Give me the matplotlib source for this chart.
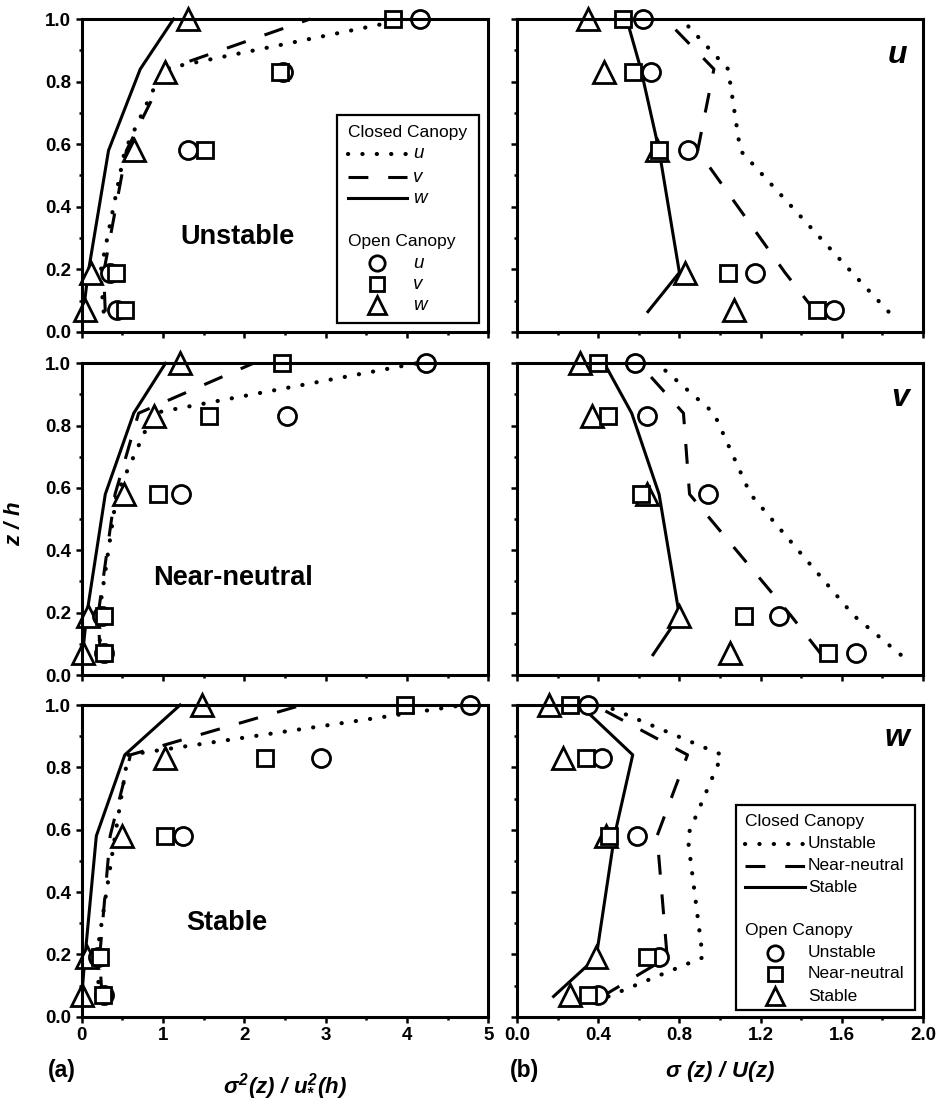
import matplotlib
matplotlib.use("Agg")
import matplotlib.pyplot as plt
from matplotlib.patches import Rectangle
from matplotlib.ticker import MultipleLocator, FormatStrFormatter

plt.rcParams['font.family'] = ['Liberation Sans', 'DejaVu Sans']
plt.rcParams['mathtext.fontset'] = 'custom'
plt.rcParams['mathtext.rm'] = 'Liberation Sans:bold:italic'
plt.rcParams['mathtext.it'] = 'Liberation Sans:bold:italic'
plt.rcParams['mathtext.bf'] = 'Liberation Sans:bold'

# ---------------- data ----------------
z_open = [0.07, 0.19, 0.58, 0.83, 1.0]
z_closed = [0.065, 0.19, 0.58, 0.84, 1.0]

stab_names = ['Unstable', 'Near-neutral', 'Stable']
comp_names = ['u', 'v', 'w']

# (a) sigma^2 / u*^2, rows = stability; each has closed u, v, w and open u, v, w
a_closed_u = [[0.27, 0.23, 0.53, 1.00, 4.00],
              [0.23, 0.21, 0.43, 0.88, 4.12],
              [0.22, 0.18, 0.41, 0.57, 4.70]]
a_closed_v = [[0.29, 0.27, 0.55, 1.05, 2.81],
              [0.23, 0.20, 0.41, 0.70, 2.11],
              [0.25, 0.22, 0.35, 0.60, 2.71]]
a_closed_w = [[0.02, 0.08, 0.33, 0.72, 1.13],
              [0.01, 0.06, 0.29, 0.64, 1.03],
              [0.00, 0.04, 0.18, 0.53, 1.21]]
a_open_u = [[0.43, 0.35, 1.31, 2.48, 4.16],
            [0.27, 0.25, 1.22, 2.52, 4.24],
            [0.27, 0.20, 1.24, 2.94, 4.78]]
a_open_v = [[0.53, 0.42, 1.52, 2.44, 3.83],
            [0.27, 0.27, 0.94, 1.57, 2.46],
            [0.26, 0.22, 1.03, 2.26, 3.98]]
a_open_w = [[0.04, 0.12, 0.64, 1.03, 1.31],
            [0.02, 0.08, 0.52, 0.89, 1.21],
            [0.00, 0.06, 0.50, 1.03, 1.48]]

# (b) sigma / U, rows = component u, v, w
b_closed_unstable = [[1.83, 1.65, 1.10, 1.04, 0.81],
                     [1.89, 1.66, 1.15, 0.97, 0.69],
                     [0.45, 0.915, 0.84, 1.01, 0.425]]
b_closed_neutral = [[1.47, 1.32, 0.89, 0.97, 0.73],
                    [1.50, 1.35, 0.85, 0.82, 0.60],
                    [0.42, 0.74, 0.69, 0.84, 0.38]]
b_closed_stable = [[0.645, 0.80, 0.70, 0.61, 0.54],
                   [0.67, 0.80, 0.70, 0.565, 0.43],
                   [0.18, 0.39, 0.48, 0.57, 0.31]]
b_open_unstable = [[1.56, 1.17, 0.84, 0.66, 0.62],
                   [1.67, 1.29, 0.94, 0.64, 0.58],
                   [0.40, 0.70, 0.59, 0.42, 0.35]]
b_open_neutral = [[1.48, 1.04, 0.70, 0.57, 0.52],
                  [1.53, 1.12, 0.61, 0.45, 0.40],
                  [0.35, 0.64, 0.455, 0.34, 0.26]]
b_open_stable = [[1.07, 0.83, 0.69, 0.43, 0.35],
                 [1.05, 0.80, 0.64, 0.37, 0.31],
                 [0.26, 0.39, 0.44, 0.225, 0.16]]

# ---------------- styles ----------------
LW = 2.2
DOT = dict(color='black', lw=3.0, linestyle=(0, (0.05, 3.4)), dash_capstyle='round', clip_on=False)
DASH = dict(color='black', lw=LW, linestyle=(0, (6.5, 6.5)), dash_capstyle='butt', clip_on=False)
SOLID = dict(color='black', lw=LW, linestyle='-', clip_on=False)
MK = dict(linestyle='none', mfc='white', mec='black', mew=2.0, clip_on=False)
MK_C = dict(marker='o', ms=13, **MK)
MK_S = dict(marker='s', ms=12, **MK)
MK_T = dict(marker='^', ms=15.5, **MK)

fig = plt.figure(figsize=(9.37, 10.99), dpi=100)

W, H = 937.0, 1099.0
lx0, lx1 = 81.7, 488.3
rx0, rx1 = 517.0, 923.0
rows_px = [(19.0, 332.0), (363.3, 675.0), (705.0, 1016.7)]


def make_ax(x0, x1, y0, y1):
    return fig.add_axes([x0 / W, 1 - y1 / H, (x1 - x0) / W, (y1 - y0) / H])


def style(ax, xmax, xmaj, xmin, show_x, show_y, fmt):
    ax.set_xlim(0, xmax)
    ax.set_ylim(0, 1.0)
    for s in ax.spines.values():
        s.set_linewidth(2.2)
    ax.xaxis.set_major_locator(MultipleLocator(xmaj))
    ax.xaxis.set_minor_locator(MultipleLocator(xmin))
    ax.yaxis.set_major_locator(MultipleLocator(0.2))
    ax.yaxis.set_minor_locator(MultipleLocator(0.1))
    ax.yaxis.set_major_formatter(FormatStrFormatter('%.1f'))
    ax.xaxis.set_major_formatter(FormatStrFormatter(fmt))
    ax.tick_params(which='major', direction='out', length=4.5, width=1.8,
                   labelsize=13.5, top=False, right=False, pad=3)
    ax.tick_params(which='minor', direction='out', length=2.5, width=1.8,
                   top=False, right=False)
    ax.tick_params(axis='x', labelbottom=show_x)
    ax.tick_params(axis='y', labelleft=show_y)
    for lab in ax.get_xticklabels() + ax.get_yticklabels():
        lab.set_fontweight('bold')


LEG_FS = 12.5

# ----- (a) left column -----
for i in range(3):
    y0, y1 = rows_px[i]
    ax = make_ax(lx0, lx1, y0, y1)
    style(ax, 5, 1, 0.5, i == 2, True, '%d')
    ax.plot(a_closed_u[i], z_closed, **DOT)
    ax.plot(a_closed_v[i], z_closed, **DASH)
    ax.plot(a_closed_w[i], z_closed, **SOLID)
    ax.plot(a_open_w[i], z_open, **MK_T)
    ax.plot(a_open_u[i], z_open, **MK_C)
    ax.plot(a_open_v[i], z_open, **MK_S)
    tx = [0.382, 0.372, 0.357][i]
    ty = [0.304, 0.311, 0.300][i]
    ax.text(tx, ty, stab_names[i], transform=ax.transAxes, ha='center', va='center',
            fontsize=19.5, fontweight='bold')
    if i == 0:
        # legend (closed / open canopy)
        ax.add_patch(Rectangle((0.628, 0.029), 0.349, 0.664, transform=ax.transAxes,
                               fill=True, fc='white', ec='black', lw=1.6, zorder=5))
        ax.text(0.655, 0.636, 'Closed Canopy', transform=ax.transAxes, fontsize=LEG_FS,
                va='center', ha='left', zorder=6)
        ly = [0.569, 0.495, 0.428]
        for st, yy, nm in zip([DOT, DASH, SOLID], ly, comp_names):
            ax.plot([0.655, 0.800], [yy, yy], transform=ax.transAxes, zorder=6, **st)
            ax.text(0.815, yy, nm, transform=ax.transAxes, fontsize=LEG_FS + 1, style='italic',
                    va='center', ha='left', zorder=6)
        ax.text(0.655, 0.288, 'Open Canopy', transform=ax.transAxes, fontsize=LEG_FS,
                va='center', ha='left', zorder=6)
        my = [0.220, 0.153, 0.086]
        for mk, yy, nm in zip([MK_C, MK_S, MK_T], my, comp_names):
            kw = dict(mk)
            kw['ms'] = kw['ms'] * 0.85
            ax.plot([0.726], [yy], transform=ax.transAxes, zorder=6, **kw)
            ax.text(0.815, yy, nm, transform=ax.transAxes, fontsize=LEG_FS + 1, style='italic',
                    va='center', ha='left', zorder=6)

# ----- (b) right column -----
for i in range(3):
    y0, y1 = rows_px[i]
    ax = make_ax(rx0, rx1, y0, y1)
    style(ax, 2.0, 0.4, 0.2, i == 2, False, '%.1f')
    ax.plot(b_closed_unstable[i], z_closed, **DOT)
    ax.plot(b_closed_neutral[i], z_closed, **DASH)
    ax.plot(b_closed_stable[i], z_closed, **SOLID)
    ax.plot(b_open_stable[i], z_open, **MK_T)
    ax.plot(b_open_unstable[i], z_open, **MK_C)
    ax.plot(b_open_neutral[i], z_open, **MK_S)
    ax.text([0.936, 0.943, 0.936][i], [0.885, 0.889, 0.894][i], comp_names[i],
            transform=ax.transAxes, ha='center', va='center', fontsize=23,
            fontweight='bold', style='italic')
    if i == 2:
        ax.add_patch(Rectangle((0.539, 0.021), 0.441, 0.658, transform=ax.transAxes,
                               fill=True, fc='white', ec='black', lw=1.6, zorder=5))
        ax.text(0.562, 0.625, 'Closed Canopy', transform=ax.transAxes, fontsize=LEG_FS,
                va='center', ha='left', zorder=6)
        ly = [0.555, 0.484, 0.416]
        for st, yy, nm in zip([DOT, DASH, SOLID], ly, stab_names):
            ax.plot([0.562, 0.709], [yy, yy], transform=ax.transAxes, zorder=6, **st)
            ax.text(0.717, yy, nm, transform=ax.transAxes, fontsize=LEG_FS,
                    va='center', ha='left', zorder=6)
        ax.text(0.562, 0.275, 'Open Canopy', transform=ax.transAxes, fontsize=LEG_FS,
                va='center', ha='left', zorder=6)
        my = [0.205, 0.137, 0.066]
        for mk, yy, nm in zip([MK_C, MK_S, MK_T], my, stab_names):
            kw = dict(mk)
            kw['ms'] = kw['ms'] * 0.85
            ax.plot([0.635], [yy], transform=ax.transAxes, zorder=6, **kw)
            ax.text(0.717, yy, nm, transform=ax.transAxes, fontsize=LEG_FS,
                    va='center', ha='left', zorder=6)

# ----- labels -----
fig.text(15 / W, 1 - 523 / H, r'$z\ /\ h$', rotation=90, ha='center', va='center',
         fontsize=16)
fig.text(285 / W, 1 - 1086 / H, r'$\sigma^{2}(z)\ /\ u_{*}^{2}(h)$', ha='center',
         va='center', fontsize=16)
fig.text(720 / W, 1 - 1072 / H, r'$\sigma\ (z)\ /\ U(z)$', ha='center', va='center',
         fontsize=16)
fig.text(62 / W, 1 - 1070 / H, '(a)', ha='center', va='center', fontsize=16.5,
         fontweight='bold')
fig.text(525 / W, 1 - 1070 / H, '(b)', ha='center', va='center', fontsize=16.5,
         fontweight='bold')

fig.savefig('out.png', dpi=100)
